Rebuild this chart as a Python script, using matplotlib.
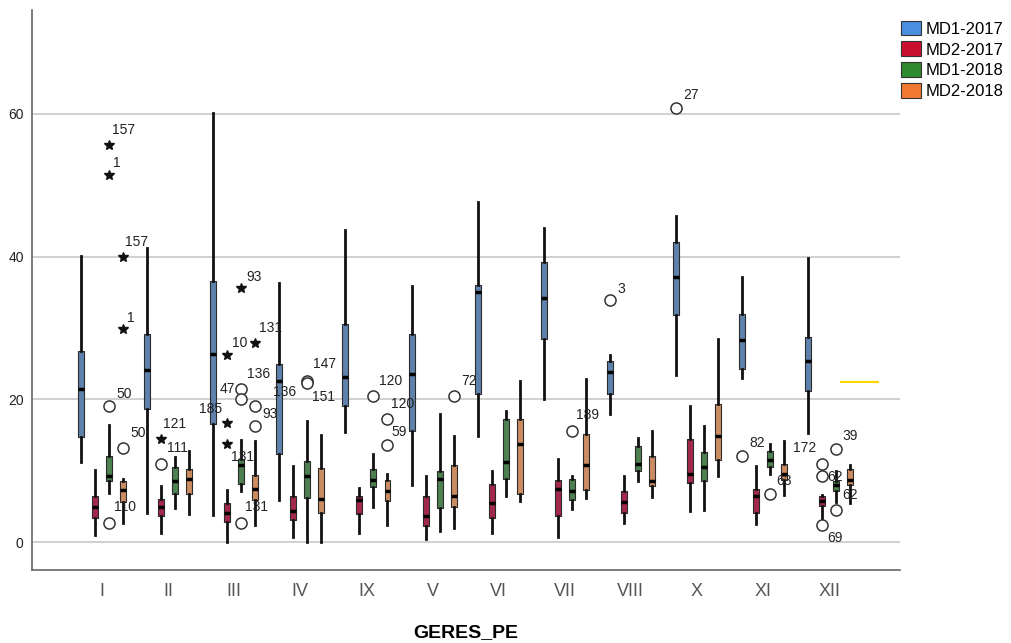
import matplotlib
matplotlib.use('Agg')
import matplotlib.pyplot as plt
from matplotlib.patches import Patch
import numpy as np

# ---------------- data ----------------
months = ['I', 'II', 'III', 'IV', 'IX', 'V', 'VI', 'VII', 'VIII', 'X', 'XI', 'XII']
series_names = ['MD1-2017', 'MD2-2017', 'MD1-2018', 'MD2-2018']

# each row: whisker low, Q1, median, Q3, whisker high
md1_2017 = [
    (11.2, 14.7, 21.5, 26.8, 40.1),
    (4.1, 18.6, 24.1, 29.1, 41.2),
    (3.8, 16.5, 26.4, 36.6, 60.1),
    (5.9, 12.3, 22.5, 25.0, 36.3),
    (15.4, 19.0, 23.1, 30.6, 43.7),
    (8.0, 15.5, 23.5, 29.2, 35.9),
    (14.9, 20.7, 35.1, 36.0, 47.7),
    (20.1, 28.5, 34.2, 39.2, 44.0),
    (17.9, 20.7, 23.8, 25.3, 26.2),
    (23.4, 31.8, 37.2, 42.0, 45.7),
    (23.0, 24.2, 28.3, 32.0, 37.2),
    (15.3, 21.1, 25.3, 28.7, 39.8),
]
md2_2017 = [
    (1.0, 3.3, 4.9, 6.4, 10.1),
    (1.2, 3.6, 4.9, 6.1, 7.8),
    (0.0, 2.8, 4.0, 5.4, 7.3),
    (0.7, 3.1, 4.3, 6.4, 10.6),
    (1.2, 3.9, 5.9, 6.4, 7.6),
    (0.4, 2.2, 3.7, 6.4, 9.3),
    (1.2, 3.3, 5.4, 8.1, 9.9),
    (0.7, 3.7, 7.5, 8.7, 11.7),
    (2.6, 4.1, 5.6, 7.2, 9.2),
    (4.3, 8.3, 9.5, 14.5, 19.1),
    (2.5, 4.0, 6.4, 7.5, 10.6),
    (3.2, 5.0, 5.8, 6.4, 6.6),
]
md1_2018 = [
    (6.9, 8.5, 9.3, 12.0, 16.4),
    (4.7, 6.8, 8.5, 10.5, 11.9),
    (7.2, 8.2, 10.8, 11.7, 14.3),
    (0.0, 6.2, 9.3, 11.3, 17.0),
    (4.9, 7.7, 8.7, 10.3, 12.3),
    (1.5, 4.7, 8.8, 10.0, 17.9),
    (6.4, 8.8, 11.2, 17.2, 18.4),
    (4.6, 5.9, 7.2, 8.9, 9.3),
    (8.6, 10.0, 11.0, 13.5, 14.6),
    (4.5, 8.5, 10.5, 12.6, 16.2),
    (9.6, 10.5, 11.5, 12.8, 13.8),
    (5.6, 7.2, 8.0, 8.6, 10.0),
]
md2_2018 = [
    (2.6, 5.6, 7.3, 8.6, 8.8),
    (3.9, 6.7, 8.8, 10.3, 12.7),
    (2.4, 5.9, 7.5, 9.4, 14.2),
    (0.0, 4.0, 6.1, 10.4, 15.0),
    (2.4, 5.7, 7.1, 8.7, 9.5),
    (2.0, 4.9, 6.4, 10.8, 14.9),
    (5.7, 6.8, 13.7, 17.3, 22.5),
    (6.2, 7.3, 10.8, 15.1, 22.9),
    (6.3, 7.8, 8.5, 12.0, 15.6),
    (9.2, 11.5, 14.9, 19.4, 28.4),
    (6.6, 8.7, 9.6, 11.0, 14.2),
    (5.4, 8.0, 8.7, 10.3, 10.8),
]

# outliers: (month, series index, value, kind, label)
outliers = [
    ('I', 2, 55.6, 'star', '157'),
    ('I', 2, 51.4, 'star', '1'),
    ('I', 2, 19.1, 'circle', '50'),
    ('I', 2, 2.7, 'circle', '110'),
    ('I', 3, 39.9, 'star', '157'),
    ('I', 3, 29.8, 'star', '1'),
    ('I', 3, 13.2, 'circle', '50'),
    ('II', 1, 14.5, 'star', '121'),
    ('II', 1, 10.9, 'circle', '111'),
    ('III', 1, 26.2, 'star', '10'),
    ('III', 2, 35.6, 'star', '93'),
    ('III', 3, 27.9, 'star', '131'),
    ('III', 1, 16.7, 'star', '185'),
    ('III', 1, 13.8, 'star', '131'),
    ('III', 2, 21.5, 'circle', '47'),
    ('III', 2, 20.0, 'circle', '136'),
    ('III', 3, 19.1, 'circle', '93'),
    ('III', 3, 16.2, 'circle', ''),
    ('III', 2, 2.6, 'circle', '131'),
    ('IV', 0, 21.0, 'none', '136'),
    ('IV', 2, 22.5, 'circle', '147'),
    ('IV', 2, 22.3, 'circle', '151'),
    ('IX', 2, 20.5, 'circle', '120'),
    ('IX', 3, 17.2, 'circle', '120'),
    ('IX', 3, 13.6, 'circle', '59'),
    ('V', 3, 20.4, 'circle', '72'),
    ('VII', 2, 15.6, 'circle', '189'),
    ('VIII', 0, 33.9, 'circle', '3'),
    ('X', 0, 60.8, 'circle', '27'),
    ('XI', 0, 12.1, 'circle', '82'),
    ('XI', 2, 6.8, 'circle', '63'),
    ('XII', 1, 10.9, 'circle', '172'),
    ('XII', 1, 9.3, 'circle', '62'),
    ('XII', 1, 2.4, 'circle', '69'),
    ('XII', 2, 13.0, 'circle', '39'),
    ('XII', 2, 4.5, 'circle', '62'),
]
# label offsets in pixels (dx right, dy up), one per outlier above
label_offsets = [
    (15, 15), (8, 12), (15, 12), (16, 16), (14, 15), (8, 11), (15, 15),
    (13, 15), (16, 16),
    (12, 12), (13, 11), (15, 15), (-17, 14), (15, -13), (-14, 0), (17, 25),
    (15, -8), (0, 0), (15, 16),
    (5, 0), (17, 17), (16, -14),
    (17, 15), (15, 15), (12, 13),
    (15, 15),
    (16, 16),
    (11, 11),
    (15, 13),
    (15, 13), (14, 13),
    (-18, 16), (13, -1), (13, -13), (14, 13), (14, 15),
]

ref_line_value = 22.4
ref_line_span = (11.18, 11.74)

# ---------------- style ----------------
box_colors = ['#5f82ad', '#a3284c', '#4d8150', '#cc8c62']
legend_colors = ['#4a8fdf', '#c8102e', '#2f8a2f', '#f07a32']
offsets = [-0.318, -0.106, 0.106, 0.318]

fig = plt.figure(figsize=(10.12, 6.43), dpi=100)
ax = fig.add_axes([32 / 1012, 1 - 570 / 643, (900 - 32) / 1012, (570 - 10) / 643])

all_series = [md1_2017, md2_2017, md1_2018, md2_2018]
xidx = np.arange(len(months))
for k, data in enumerate(all_series):
    stats = [dict(whislo=r[0], q1=r[1], med=r[2], q3=r[3], whishi=r[4], fliers=[]) for r in data]
    ax.bxp(stats, positions=xidx + offsets[k], widths=0.09, patch_artist=True,
           showfliers=False, showcaps=False, manage_ticks=False,
           boxprops=dict(facecolor=box_colors[k], edgecolor='#2b2b2b', linewidth=0.8),
           whiskerprops=dict(color='#111111', linewidth=2.0),
           medianprops=dict(color='black', linewidth=2.5),
           zorder=3)

for (m, s, v, kind, lab), (dx, dy) in zip(outliers, label_offsets):
    x = months.index(m) + offsets[s]
    if kind == 'circle':
        ax.plot(x, v, marker='o', ms=8, mfc='white', mec='#333333', mew=1.1, ls='none', zorder=4)
    elif kind == 'star':
        ax.plot(x, v, marker='*', ms=7, color='#111111', ls='none', zorder=4)
    if lab:
        ax.annotate(lab, (x, v), xytext=(dx, dy), textcoords='offset pixels',
                    ha='center', va='center', fontsize=10, color='#222222',
                    family='Liberation Sans', zorder=5)

ax.plot(ref_line_span, [ref_line_value, ref_line_value], color='#ffd400', lw=1.5, zorder=2)

ax.set_xlim(-1.059, 12.07)
ax.set_ylim(-3.92, 74.56)
ax.set_yticks([0, 20, 40, 60])
ax.set_xticks(xidx)
ax.set_xticklabels(months, family='Liberation Sans', fontsize=13, color='#555555')
ax.tick_params(axis='x', length=0, pad=9)
ax.tick_params(axis='y', length=0, pad=6, labelsize=10, labelcolor='#222222')
for t in ax.get_yticklabels():
    t.set_family('Liberation Sans')
ax.grid(axis='y', color='#c8c8c8', linewidth=1.2, zorder=0)
ax.set_axisbelow(True)
for sp in ['top', 'right']:
    ax.spines[sp].set_visible(False)
for sp in ['left', 'bottom']:
    ax.spines[sp].set_color('#666666')
    ax.spines[sp].set_linewidth(1.2)

ax.set_xlabel('GERES_PE', fontsize=14, fontweight='bold', family='Liberation Sans', labelpad=18)

handles = [Patch(facecolor=c, edgecolor='#333333', linewidth=0.8) for c in legend_colors]
fig.legend(handles, series_names, loc='upper left', bbox_to_anchor=(0.8905, 0.968),
           frameon=False, handlelength=1.2, handleheight=1.0,
           handletextpad=0.25, labelspacing=0.28, borderaxespad=0, borderpad=0,
           prop={'family': 'Liberation Sans', 'size': 12})

fig.savefig('out.png', dpi=100)
